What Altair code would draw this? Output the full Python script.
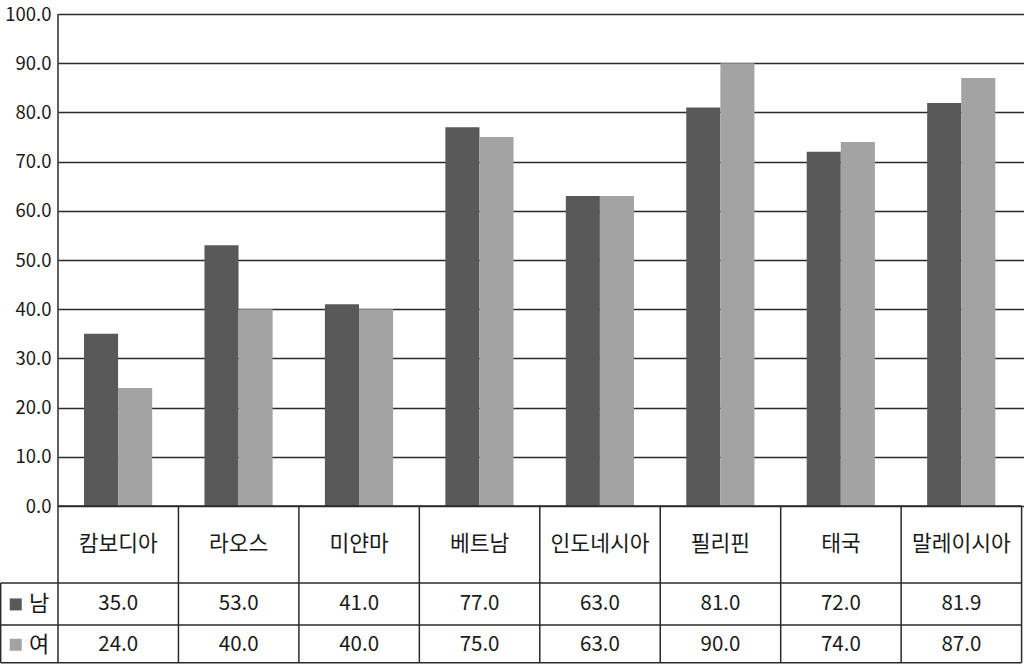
import altair as alt
import pandas as pd

countries = ["캄보디아", "라오스", "미얀마", "베트남", "인도네시아", "필리핀", "태국", "말레이시아"]
male = [35.0, 53.0, 41.0, 77.0, 63.0, 81.0, 72.0, 81.9]
female = [24.0, 40.0, 40.0, 75.0, 63.0, 90.0, 74.0, 87.0]
series = ["남", "여"]
colors = ["#595959", "#a3a3a3"]
y_ticks = [0, 10, 20, 30, 40, 50, 60, 70, 80, 90, 100]

FONT = "Noto Sans CJK KR"
TXT = "#1a1a1a"
LINE = "#2a2a2a"

rows = []
for i, c in enumerate(countries):
    rows.append({"country": c, "idx": i, "sex": series[0], "s": 0, "value": male[i]})
    rows.append({"country": c, "idx": i, "sex": series[1], "s": 1, "value": female[i]})
df = pd.DataFrame(rows)
cat_df = pd.DataFrame({"country": countries, "idx": list(range(len(countries)))})
leg_df = pd.DataFrame({"sex": series, "s": [0, 1]})
one = pd.DataFrame({"k": [0]})

# layout constants (table geometry in scale units)
N = len(countries)
BAR_OFF, BAR_W = 0.216, 0.283
ROW1, ROW2, ROW3 = -15.65, -24.19, -31.85
Y_CAT, Y_M, Y_F = -7.9, -20.0, -28.2
LEFT = -0.476

xs = alt.Scale(domain=[0, 8.02], nice=False, zero=False)
ys = alt.Scale(domain=[0, 100], nice=False, zero=False)

bars = alt.Chart(df).transform_calculate(
    x0=f"datum.idx + {BAR_OFF} + datum.s * {BAR_W}",
    x1=f"datum.idx + {BAR_OFF} + (datum.s + 1) * {BAR_W}",
).mark_bar(clip=False).encode(
    x=alt.X("x0:Q", scale=xs, axis=None),
    x2="x1:Q",
    y=alt.Y("value:Q", scale=ys, axis=alt.Axis(
        values=y_ticks, format=".1f", grid=True, ticks=False, domain=False,
        labelPadding=7, labelFontSize=18.5, labelFont=FONT, labelColor=TXT,
        gridColor=LINE, gridWidth=1.5, title=None)),
    y2=alt.datum(0),
    color=alt.Color("sex:N", scale=alt.Scale(domain=series, range=colors), legend=None),
)

def hrule(y, x0, x1):
    return alt.Chart(one).mark_rule(color=LINE, strokeWidth=1.5).encode(
        y=alt.datum(y), x=alt.datum(x0), x2=alt.datum(x1))

def vrule(x, y0, y1):
    return alt.Chart(one).mark_rule(color=LINE, strokeWidth=1.5).encode(
        x=alt.datum(x), y=alt.datum(y0), y2=alt.datum(y1))

seps = alt.Chart(cat_df).transform_calculate(xx="datum.idx + 1").mark_rule(
    color=LINE, strokeWidth=1.5).encode(
    x=alt.X("xx:Q", scale=xs), y=alt.datum(0), y2=alt.datum(ROW3))

cat_text = alt.Chart(cat_df).transform_calculate(xx="datum.idx + 0.5").mark_text(
    font=FONT, fontSize=21.5, color=TXT, baseline="middle", align="center").encode(
    x=alt.X("xx:Q", scale=xs), y=alt.datum(Y_CAT), text="country:N")

val_text = alt.Chart(df).transform_calculate(
    xx="datum.idx + 0.5", yy=f"datum.s == 0 ? {Y_M} : {Y_F}").mark_text(
    font=FONT, fontSize=20.5, color=TXT, baseline="middle", align="center").encode(
    x=alt.X("xx:Q", scale=xs), y=alt.Y("yy:Q", scale=ys), text=alt.Text("value:Q", format=".1f"))

leg_sq = alt.Chart(leg_df).transform_calculate(
    yy=f"datum.s == 0 ? {Y_M} : {Y_F}").mark_square(size=144, opacity=1).encode(
    x=alt.datum(-0.351), y=alt.Y("yy:Q", scale=ys),
    color=alt.Color("sex:N", scale=alt.Scale(domain=series, range=colors), legend=None))

leg_text = alt.Chart(leg_df).transform_calculate(
    yy=f"datum.s == 0 ? {Y_M} : {Y_F}").mark_text(
    font=FONT, fontSize=22, color=TXT, baseline="middle", align="left").encode(
    x=alt.datum(-0.240), y=alt.Y("yy:Q", scale=ys), text="sex:N")

chart = alt.layer(
    bars,
    hrule(0, 0, N),
    hrule(ROW1, LEFT, N),
    hrule(ROW2, LEFT, N),
    hrule(ROW3, LEFT, N),
    vrule(0, 100, ROW3),
    vrule(LEFT, ROW1, ROW3),
    seps,
    cat_text,
    val_text,
    leg_sq,
    leg_text,
).properties(
    width=966, height=492,
    autosize=alt.AutoSizeParams(type="none"),
    padding={"left": 58, "top": 14, "right": 0, "bottom": 158},
    background="white",
).configure_view(stroke=None)

chart.save("out.html", embed_options={"renderer": "svg", "actions": False})
